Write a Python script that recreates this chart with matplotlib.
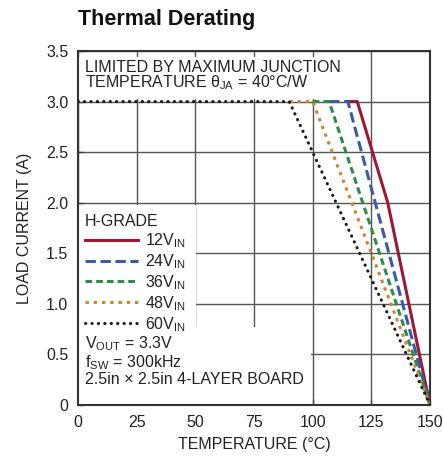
import matplotlib
matplotlib.use("Agg")
from matplotlib import pyplot as plt
from matplotlib.lines import Line2D
from matplotlib.patches import Rectangle

# Series data (temperature in degC, load current in A)
temp_12v = [0, 119, 132, 150]
load_12v = [3.0, 3.0, 2.0, 0.0]
temp_24v = [0, 115, 150]
load_24v = [3.0, 3.0, 0.0]
temp_36v = [0, 107, 150]
load_36v = [3.0, 3.0, 0.0]
temp_48v = [0, 100, 150]
load_48v = [3.0, 3.0, 0.0]
temp_60v = [0, 90, 150]
load_60v = [3.0, 3.0, 0.0]

series_labels = ["12V$_{IN}$", "24V$_{IN}$", "36V$_{IN}$", "48V$_{IN}$", "60V$_{IN}$"]
x_ticks = [0, 25, 50, 75, 100, 125, 150]
y_ticks = [0, 0.5, 1.0, 1.5, 2.0, 2.5, 3.0, 3.5]
y_tick_labels = ["0", "0.5", "1.0", "1.5", "2.0", "2.5", "3.0", "3.5"]

FONT = "Liberation Sans"
plt.rcParams["font.family"] = [FONT, "DejaVu Sans"]
plt.rcParams["mathtext.fontset"] = "custom"
plt.rcParams["mathtext.rm"] = FONT
plt.rcParams["mathtext.it"] = FONT
plt.rcParams["mathtext.default"] = "regular"

TXT = "#222222"
FS = 11.5

fig = plt.figure(figsize=(4.44, 4.62), dpi=100)
ax = fig.add_axes((78 / 444, 1 - 405 / 462, 352 / 444, 354 / 462))

styles = [
    dict(color="#9a1a35", linestyle="-"),
    dict(color="#3b5ba8", linestyle=(0, (3.4, 1.5))),
    dict(color="#2e8b4a", linestyle=(0, (2.2, 1.3))),
    dict(color="#cf8435", linestyle=(0, (1.1, 1.6))),
    dict(color="#1a1a1a", linestyle=(0, (0.1, 2.0)), dash_capstyle="round"),
]
series = [
    (temp_12v, load_12v),
    (temp_24v, load_24v),
    (temp_36v, load_36v),
    (temp_48v, load_48v),
    (temp_60v, load_60v),
]

# the shared 3A plateau only shows the top-most curve: each curve's flat
# part starts where the next (higher input voltage) curve turns down
for i, ((xs, ys), st) in enumerate(zip(series, styles)):
    if i + 1 < len(series):
        start = series[i + 1][0][1]
        xs = [start] + xs[1:]
        ys = [ys[0]] + ys[1:]
    ax.plot(xs, ys, linewidth=2.2, zorder=4, **st)

ax.set_xlim(0, 150)
ax.set_ylim(0, 3.5)
ax.set_xticks(x_ticks)
ax.set_yticks(y_ticks)
ax.set_yticklabels(y_tick_labels)
ax.grid(True, color="#555555", linewidth=1.0)
ax.set_axisbelow(True)
ax.tick_params(direction="in", length=4, width=1.0, color="#444444",
               labelsize=FS, labelcolor=TXT, pad=7)
for sp in ax.spines.values():
    sp.set_linewidth(1.5)
    sp.set_color("#333333")

# white boxes covering the grid behind the annotations
box = dict(transform=ax.transAxes, facecolor="white", edgecolor="none", zorder=2)
ax.add_patch(Rectangle((0.004, 0.864), 0.77, 0.118, **box))
ax.add_patch(Rectangle((0.004, 0.218), 0.33, 0.347, **box))
ax.add_patch(Rectangle((0.004, 0.004), 0.658, 0.216, **box))

ax.text(0.02, 0.975, "LIMITED BY MAXIMUM JUNCTION\nTEMPERATURE θ$_{JA}$ = 40°C/W",
        transform=ax.transAxes, fontsize=FS, color=TXT,
        va="top", ha="left", linespacing=0.9, zorder=5)

# legend
handles = [Line2D([], [], linewidth=2.2, **st) for st in styles]
leg = ax.legend(handles, series_labels, title="H-GRADE", loc="upper left",
                bbox_to_anchor=(0.0, 0.56), frameon=False, fontsize=FS,
                title_fontsize=FS, handlelength=3.3, handletextpad=0.45,
                labelspacing=0.14, borderaxespad=0.2, borderpad=0.25,
                alignment="left", labelcolor=TXT)
leg.get_title().set_color(TXT)
leg.set_zorder(6)

ax.text(0.02, 0.2, "V$_{OUT}$ = 3.3V\nf$_{SW}$ = 300kHz\n2.5in × 2.5in 4-LAYER BOARD",
        transform=ax.transAxes, fontsize=FS, color=TXT,
        va="top", ha="left", linespacing=1.0, zorder=5)

ax.set_xlabel("TEMPERATURE (°C)", fontsize=FS, color=TXT, labelpad=5)
ax.set_ylabel("LOAD CURRENT (A)", fontsize=FS, color=TXT, labelpad=10)

fig.text(78 / 444, 1 - 20 / 462, "Thermal Derating", fontsize=15.5,
         fontweight="bold", color="#111111", va="center", ha="left")

fig.savefig("out.png", dpi=100)
